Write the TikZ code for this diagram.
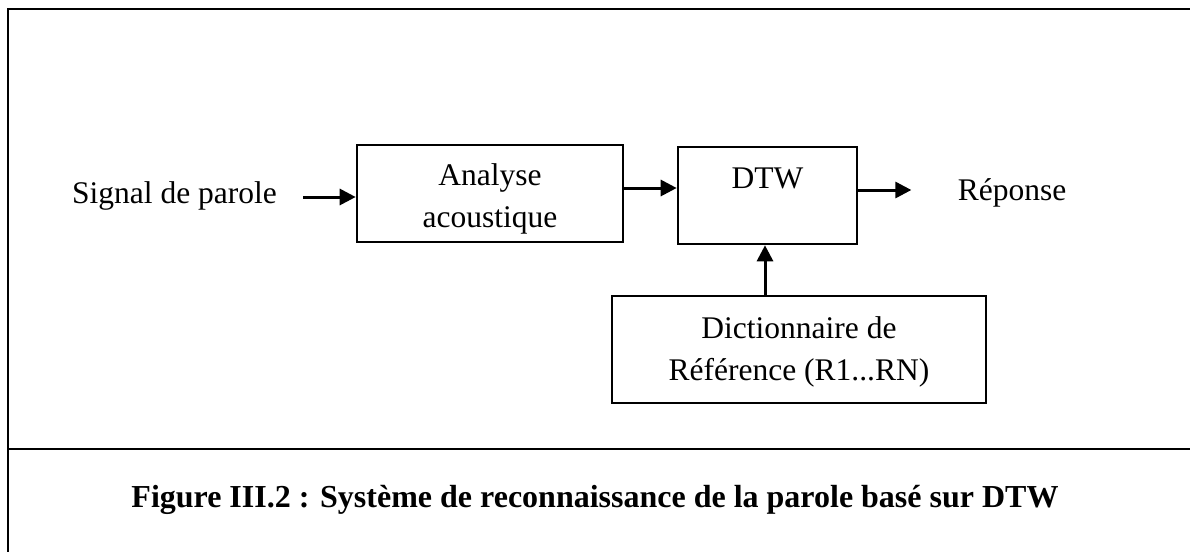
\documentclass[tikz,border=0pt]{standalone}
\usepackage{fontspec}
\setmainfont{Liberation Serif}
\usetikzlibrary{arrows.meta,calc}
\begin{document}
\begin{tikzpicture}[x=0.5pt,y=-0.5pt,
  txt/.style={font=\fontsize{15.75}{21}\selectfont, inner sep=0pt},
  lbl/.style={txt, align=center},
  blockbox/.style={draw, line width=1.3pt, inner sep=0pt},
  arr/.style={line width=1.5pt, -{Triangle[length=8pt,width=8pt]}},
  frame/.style={line width=1.4pt}
]
\useasboundingbox (0,0) rectangle (1190,552);

% table frame: left rule, top rule and the caption separator
\draw[frame] (8,552) -- (8,9) -- (1190,9);
\draw[frame] (8,449) -- (1190,449);

% blocks
\node[blockbox, minimum width=266pt/2, minimum height=97pt/2,
  label={[lbl, yshift=-2.5pt]center:{Analyse\\acoustique}}] (ana) at (490,193.5) {};
\node[blockbox, minimum width=179pt/2, minimum height=97pt/2,
  label={[lbl, yshift=-2pt]center:{DTW\\\mbox{}}}] (dtw) at (767.5,195.5) {};
\node[blockbox, minimum width=374pt/2, minimum height=107pt/2,
  label={[lbl, yshift=-1pt]center:{Dictionnaire de\\R\'ef\'erence (R1...RN)}}] (dict) at (799,349.5) {};

% input and output labels
\node[txt] (sig) at (174.5,196) {Signal de parole};
\node[txt] (rep) at (1012,193) {R\'eponse};

% connectors
\draw[arr] ($(sig.east)+(26,1)$) -- (ana.west |- 0,197);
\draw[arr] ($(ana.east)+(0,-5.5)$) -- (dtw.west |- 0,188);
\draw[arr] ($(dtw.east)+(0,-5.5)$) -- ($(rep.west)+(-46,-3)$);
\draw[arr] (dict.north -| 765,0) -- (dtw.south -| 765,0);

% caption
\node[font=\fontsize{16}{19}\selectfont\bfseries, inner sep=0pt] (cap) at (595,500)
  {Figure III.2 : Syst\`eme de reconnaissance de la parole bas\'e sur DTW};
\end{tikzpicture}
\end{document}
